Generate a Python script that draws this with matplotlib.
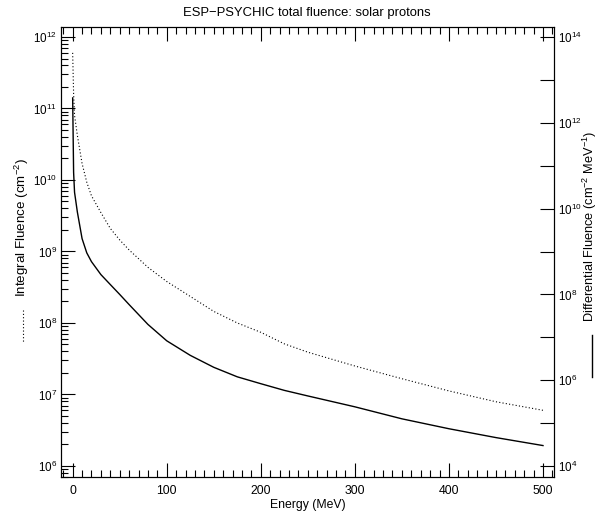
import matplotlib
matplotlib.use("Agg")
import matplotlib.pyplot as plt
from matplotlib.lines import Line2D
from matplotlib.ticker import LogLocator, FuncFormatter, FixedLocator, NullLocator
import numpy as np

plt.rcParams['font.family'] = ['Liberation Sans', 'DejaVu Sans']
plt.rcParams['mathtext.default'] = 'regular'
plt.rcParams['font.size'] = 8.8

# energy grid (MeV)
energy = [0, 1, 2, 5, 10, 15, 20, 30, 40, 50, 60, 80, 100, 125, 150, 175,
          200, 225, 250, 300, 350, 400, 450, 500]

# integral fluence (cm^-2), left axis, dotted
integral = [6e11, 1.6e11, 8e10, 4.2e10, 1.7e10, 9.3e9, 6e9, 3.5e9, 2.1e9,
            1.45e9, 1.05e9, 6e8, 3.8e8, 2.35e8, 1.45e8, 1.0e8, 7.4e7, 5.1e7,
            3.9e7, 2.5e7, 1.66e7, 1.12e7, 7.9e6, 6.0e6]

# differential fluence (cm^-2 MeV^-1), right axis, solid
differential = [3.8e12, 7e10, 2.4e10, 8.3e9, 2.0e9, 9.3e8, 5.8e8, 2.9e8,
                1.7e8, 1.0e8, 5.8e7, 2.0e7, 8.3e6, 3.8e6, 2.0e6, 1.2e6,
                8.3e5, 5.8e5, 4.3e5, 2.4e5, 1.26e5, 7.4e4, 4.6e4, 3.0e4]

x_major = [0, 100, 200, 300, 400, 500]

W, H = 596, 512
fig = plt.figure(figsize=(W / 100, H / 100), dpi=100)
l, r, t, b = 61, 554, 27, 477
ax = fig.add_axes([l / W, 1 - b / H, (r - l) / W, (b - t) / H])

ax.plot(energy, integral, color='black', lw=0.8, linestyle=(0, (1, 2)))
ax.set_yscale('log')
ax.set_xlim(-12.4, 511.7)
ax.set_ylim(7.0e5, 1.38e12)

ax.xaxis.set_major_locator(FixedLocator(x_major))
ax.xaxis.set_minor_locator(FixedLocator(np.arange(-10, 511, 10)))
ax.yaxis.set_major_locator(LogLocator(base=10, numticks=20))
ax.yaxis.set_minor_locator(LogLocator(base=10, subs=np.arange(2, 10), numticks=20))
ax.yaxis.set_major_formatter(FuncFormatter(lambda v, p: r'$10^{%d}$' % round(np.log10(v))))
ax.tick_params(which='both', direction='in', top=True, right=False, width=0.8)
ax.tick_params(which='major', length=10)
ax.tick_params(which='minor', length=5)
ax.tick_params(axis='x', pad=6)
ax.tick_params(axis='y', pad=3, labelsize=8.4)
ax.set_xlabel('Energy (MeV)', labelpad=1)

ax2 = ax.twinx()
ax2.plot(energy, differential, color='black', lw=1.0)
ax2.set_yscale('log')
ax2.set_ylim(5.55e3, 1.71e14)
ax2.yaxis.set_major_locator(LogLocator(base=10, numticks=30))
ax2.yaxis.set_minor_locator(NullLocator())
ax2.yaxis.set_major_formatter(FuncFormatter(
    lambda v, p: r'$10^{%d}$' % round(np.log10(v)) if round(np.log10(v)) % 2 == 0 else ''))
ax2.tick_params(which='major', direction='in', length=10, width=0.8, pad=3, labelsize=8.4)
ax2.xaxis.set_visible(False)

for a in (ax, ax2):
    for s in a.spines.values():
        s.set_linewidth(0.8)

fig.text(307 / W, 1 - 13 / H, 'ESP\u2212PSYCHIC total fluence: solar protons',
         ha='center', va='center', fontsize=9.4)

# left axis title with dotted sample
fig.text(22 / W, 1 - 228 / H, r'Integral Fluence (cm$^{-2}$)', rotation=90,
         ha='center', va='center', fontsize=9.6)
fig.add_artist(Line2D([23 / W, 23 / W], [1 - 310 / H, 1 - 343 / H],
                      transform=fig.transFigure, color='black', lw=0.8,
                      linestyle=(0, (1, 2))))

# right axis title with solid sample
fig.text(590 / W, 1 - 226 / H, r'Differential Fluence (cm$^{-2}$ MeV$^{-1}$)',
         rotation=90, ha='center', va='center', fontsize=9.2)
fig.add_artist(Line2D([592 / W, 592 / W], [1 - 335 / H, 1 - 377 / H],
                      transform=fig.transFigure, color='black', lw=1.0))

fig.savefig('out.png', dpi=100)
